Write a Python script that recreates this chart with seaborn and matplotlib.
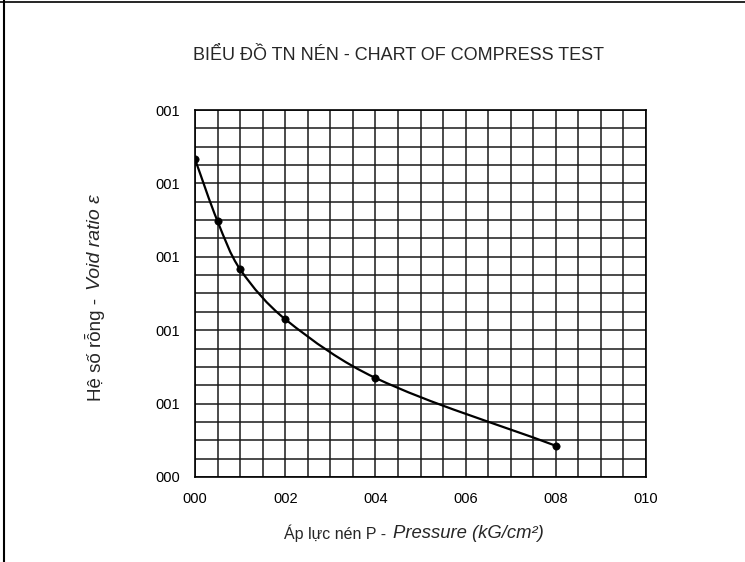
import numpy as np
import matplotlib
matplotlib.use('Agg')
import matplotlib.pyplot as plt
import seaborn as sns
from matplotlib.path import Path
from matplotlib.patches import PathPatch
from matplotlib.lines import Line2D
from matplotlib.ticker import MultipleLocator

# values
pressure = [0, 0.5, 1, 2, 4, 8]
void_ratio = [1.266, 1.097, 0.966, 0.830, 0.670, 0.485]

x_ticks = [0, 2, 4, 6, 8, 10]
x_tick_labels = ["000", "002", "004", "006", "008", "010"]
y_ticks = [0.4, 0.6, 0.8, 1.0, 1.2, 1.4]
y_tick_labels = ["000", "001", "001", "001", "001", "001"]

title = "BIỂU ĐỒ TN NÉN - CHART OF COMPRESS TEST"
xlabel_plain = "Áp lực nén P -"
xlabel_italic = "Pressure (kG/cm²)"
ylabel_plain = "Hệ số rỗng -"
ylabel_italic = "Void ratio ε"

sns.set_style("white")
plt.rcParams['font.family'] = ['Liberation Sans', 'DejaVu Sans']

W, H = 745, 562
fig = plt.figure(figsize=(W / 100, H / 100), dpi=100)
ax_w, ax_h = 451, 367
ax = fig.add_axes([195 / W, 1 - 477 / H, ax_w / W, ax_h / H])

xmin, xmax, ymin, ymax = 0, 10, 0.4, 1.4
ax.set_xlim(xmin, xmax)
ax.set_ylim(ymin, ymax)
ax.set_xticks(x_ticks)
ax.set_xticklabels(x_tick_labels)
ax.set_yticks(y_ticks)
ax.set_yticklabels(y_tick_labels)
ax.xaxis.set_minor_locator(MultipleLocator(0.5))
ax.yaxis.set_minor_locator(MultipleLocator(0.05))
ax.grid(which='both', color='#1a1a1a', lw=1.1)
ax.set_axisbelow(True)
for s in ax.spines.values():
    s.set_color('black')
    s.set_linewidth(1.2)
ax.tick_params(which='major', direction='out', length=4, color='black',
               labelsize=10.5, labelcolor='black')
ax.tick_params(axis='y', pad=7)
ax.tick_params(axis='x', pad=7)
ax.tick_params(which='minor', length=0)

# smooth line through the points (bezier, tangents in screen space)
sx = ax_w / (xmax - xmin)
sy = ax_h / (ymax - ymin)
P = np.column_stack([np.array(pressure) * sx, np.array(void_ratio) * sy])
n = len(P)
tang = []
for i in range(n):
    d = P[min(i + 1, n - 1)] - P[max(i - 1, 0)]
    tang.append(d / np.hypot(*d))
verts = [tuple(P[0])]
codes = [Path.MOVETO]
for i in range(n - 1):
    L = np.hypot(*(P[i + 1] - P[i]))
    c1 = P[i] + tang[i] * L / 3
    c2 = P[i + 1] - tang[i + 1] * L / 3
    verts += [tuple(c1), tuple(c2), tuple(P[i + 1])]
    codes += [Path.CURVE4] * 3
verts = [(vx / sx, vy / sy) for vx, vy in verts]
ax.add_patch(PathPatch(Path(verts, codes), fill=False, edgecolor='black', lw=1.6, zorder=4))

sns.scatterplot(x=pressure, y=void_ratio, color='black', edgecolor='black',
                s=28, zorder=5, ax=ax, legend=False)

fig.text(398 / W, 1 - 56 / H, title, ha='center', va='center', fontsize=13)
fig.text(386 / W, 1 - 533 / H, xlabel_plain, ha='right', va='center', fontsize=11.5)
fig.text(393 / W, 1 - 533 / H, xlabel_italic, ha='left', va='center',
         fontsize=13.3, style='italic')
fig.text(95 / W, 1 - 298 / H, ylabel_plain, ha='center', va='top', rotation=90,
         fontsize=13.5)
fig.text(95 / W, 1 - 290 / H, ylabel_italic, ha='center', va='bottom', rotation=90,
         fontsize=14, style='italic')

# page border lines from the scanned form
fig.add_artist(Line2D([0, 1], [1 - 2 / H, 1 - 2 / H], color='black', lw=1.2))
fig.add_artist(Line2D([4 / W, 4 / W], [0, 1], color='black', lw=1.5))

fig.savefig('out.png', dpi=100)
